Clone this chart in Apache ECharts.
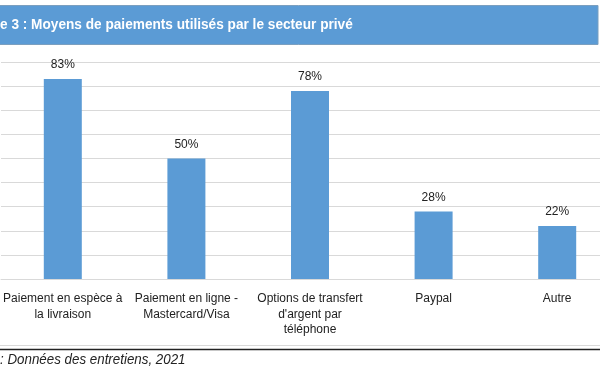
<!DOCTYPE html>
<html>
<head>
<meta charset="utf-8">
<script src="https://cdn.jsdelivr.net/npm/echarts@6/dist/echarts.min.js"></script>
<style>
  html, body { margin: 0; padding: 0; background: #fff; }
  #chart { width: 600px; height: 376px; }
</style>
</head>
<body>
<div id="chart"></div>
<script>
// données
const categories = [
    'Paiement en espèce à\nla livraison',
    'Paiement en ligne -\nMastercard/Visa',
    'Options de transfert\nd\'argent par\ntéléphone',
    'Paypal',
    'Autre'
];
const values = [83, 50, 78, 28, 22];
const titleText = 'e 3 : Moyens de paiements utilisés par le secteur privé';
const sourceText = ': Données des entretiens, 2021';

const chart = echarts.init(document.getElementById('chart'));

const option = {
    animation: false,
    graphic: [
        // bandeau du titre
        { type: 'rect', shape: { x: -1, y: 5.5, width: 599, height: 39 }, style: { fill: '#5b9bd5', stroke: '#7b9fbf', lineWidth: 1 }, z: 0 },
        { type: 'text', x: 0, y: 25, scaleX: 0.91, style: { text: titleText, fill: '#fff', verticalAlign: 'middle', font: 'bold 15px "Liberation Sans", sans-serif' }, z: 1 },
        // lignes du bas
        { type: 'line', shape: { x1: 0, y1: 345.5, x2: 600, y2: 345.5 }, style: { stroke: '#d9d9d9', lineWidth: 1 } },
        { type: 'line', shape: { x1: 0, y1: 349.5, x2: 600, y2: 349.5 }, style: { stroke: '#222', lineWidth: 1.3 } },
        { type: 'text', x: 0, y: 360, scaleX: 0.89, style: { text: sourceText, fill: '#222', verticalAlign: 'middle', font: 'italic 15px "Liberation Sans", sans-serif' } }
    ],
    grid: { left: 1, right: -19, top: 62, bottom: 97, outerBoundsMode: 'none', containLabel: false },
    xAxis: {
        type: 'category',
        data: categories,
        axisTick: { show: false },
        axisLine: { lineStyle: { color: '#d9d9d9' } },
        axisLabel: {
            interval: 0,
            margin: 12,
            color: '#222',
            fontSize: 12,
            lineHeight: 15.5,
            fontFamily: '"Liberation Sans", sans-serif'
        }
    },
    yAxis: {
        type: 'value',
        min: 0,
        max: 90,
        interval: 10,
        axisLabel: { show: false },
        axisLine: { show: false },
        axisTick: { show: false },
        splitLine: { lineStyle: { color: '#d9d9d9', width: 1 } }
    },
    series: [{
        type: 'bar',
        data: values,
        barWidth: 38,
        itemStyle: { color: '#5b9bd5' },
        label: {
            show: true,
            position: 'top',
            distance: 8,
            formatter: '{c}%',
            color: '#222',
            fontSize: 12,
            fontFamily: '"Liberation Sans", sans-serif'
        }
    }]
};
chart.setOption(option);
</script>
</body>
</html>
